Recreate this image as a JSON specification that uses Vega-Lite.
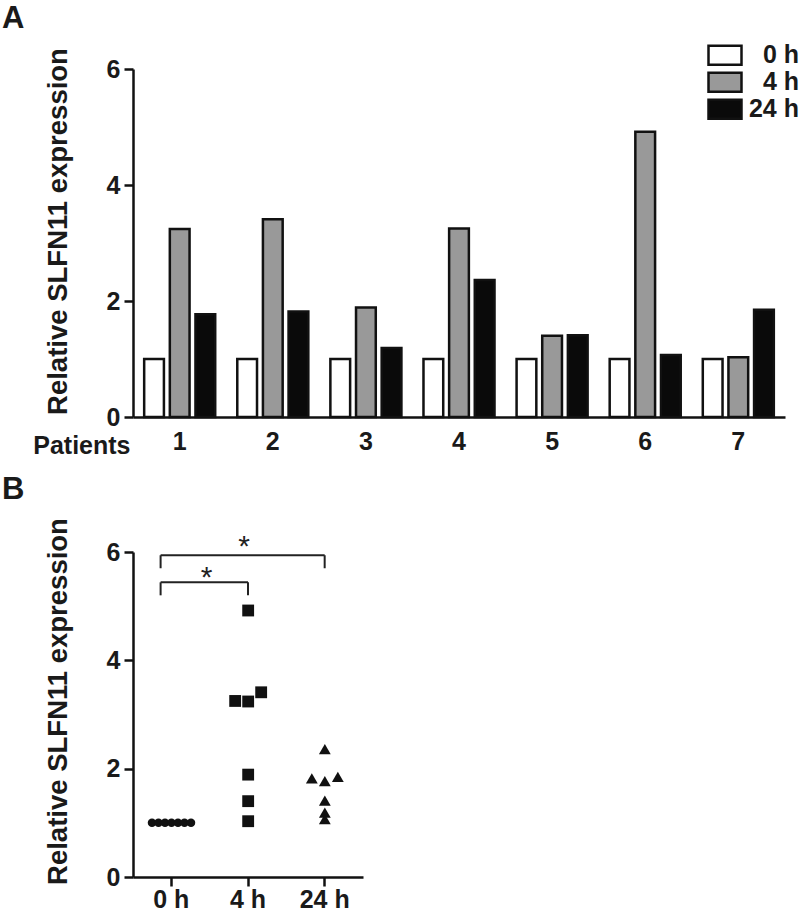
{
  "$schema": "https://vega.github.io/schema/vega-lite/v6.json",
  "background": "white",
  "padding": {"left": 2, "top": 2, "right": 0, "bottom": 0},
  "spacing": 15,
  "datasets": {
    "expr": [
      {"patient": "1", "time": "0 h", "value": 1.0},
      {"patient": "1", "time": "4 h", "value": 3.24},
      {"patient": "1", "time": "24 h", "value": 1.77},
      {"patient": "2", "time": "0 h", "value": 1.0},
      {"patient": "2", "time": "4 h", "value": 3.41},
      {"patient": "2", "time": "24 h", "value": 1.82},
      {"patient": "3", "time": "0 h", "value": 1.0},
      {"patient": "3", "time": "4 h", "value": 1.89},
      {"patient": "3", "time": "24 h", "value": 1.19},
      {"patient": "4", "time": "0 h", "value": 1.0},
      {"patient": "4", "time": "4 h", "value": 3.25},
      {"patient": "4", "time": "24 h", "value": 2.36},
      {"patient": "5", "time": "0 h", "value": 1.0},
      {"patient": "5", "time": "4 h", "value": 1.4},
      {"patient": "5", "time": "24 h", "value": 1.41},
      {"patient": "6", "time": "0 h", "value": 1.0},
      {"patient": "6", "time": "4 h", "value": 4.92},
      {"patient": "6", "time": "24 h", "value": 1.07},
      {"patient": "7", "time": "0 h", "value": 1.0},
      {"patient": "7", "time": "4 h", "value": 1.03},
      {"patient": "7", "time": "24 h", "value": 1.85}
    ],
    "brackets": [
      {"from": "0 h", "to": "4 h", "top": 5.44, "low": 5.2, "star": "*", "starY": 5.36},
      {"from": "0 h", "to": "24 h", "top": 5.94, "low": 5.7, "star": "*", "starY": 5.92}
    ]
  },
  "config": {
    "view": {"stroke": null},
    "font": "Liberation Sans",
    "axis": {
      "grid": false,
      "domainColor": "#111111",
      "domainWidth": 2.5,
      "tickColor": "#111111",
      "tickWidth": 2.5,
      "labelFont": "Liberation Sans",
      "labelFontWeight": "bold",
      "labelFontSize": 25,
      "labelColor": "#1a1a1a",
      "titleFont": "Liberation Sans",
      "titleFontWeight": "bold",
      "titleFontSize": 27.5,
      "titleColor": "#1a1a1a"
    },
    "legend": {"padding": 0},
    "title": {"font": "Liberation Sans", "fontWeight": "bold", "fontSize": 31, "color": "#1a1a1a"}
  },
  "vconcat": [
    {
      "title": {"text": "A", "anchor": "start", "frame": "group", "dx": -131, "offset": 13},
      "width": 652,
      "height": 348,
      "data": {"name": "expr"},
      "mark": {"type": "bar", "stroke": "#111111", "strokeWidth": 2.5},
      "encoding": {
        "x": {
          "field": "patient", "type": "ordinal",
          "scale": {"paddingInner": 0.237, "paddingOuter": 0.12},
          "axis": {"ticks": false, "labelAngle": 0, "labelPadding": 12, "title": "Patients", "titleX": -3, "titleY": 36, "titleAlign": "right", "titleBaseline": "alphabetic", "titleFontSize": 25}
        },
        "xOffset": {"field": "time", "type": "nominal", "sort": ["0 h", "4 h", "24 h"], "scale": {"paddingInner": 0.23}},
        "y": {
          "field": "value", "type": "quantitative",
          "scale": {"domain": [0, 6], "nice": false},
          "axis": {"values": [0, 2, 4, 6], "format": "d", "tickSize": 9, "labelPadding": 4, "title": "Relative SLFN11 expression", "titlePadding": 34, "titleY": 162}
        },
        "fill": {
          "field": "time", "type": "nominal",
          "scale": {"domain": ["0 h", "4 h", "24 h"], "range": ["#ffffff", "#999999", "#0a0a0a"]},
          "legend": {
            "title": null, "orient": "none", "legendX": 574, "legendY": -27,
            "symbolType": "M-1,-0.58H1V0.58H-1Z", "symbolSize": 1089,
            "symbolStrokeColor": "#111111", "symbolStrokeWidth": 2.5, "symbolOpacity": 1,
            "clipHeight": 26.5, "rowPadding": 0,
            "labelFontSize": 25, "labelFontWeight": "bold", "labelColor": "#1a1a1a",
            "labelAlign": "right", "labelOffset": 56, "labelLimit": 100
          }
        }
      }
    },
    {
      "title": {"text": "B", "anchor": "start", "frame": "group", "dx": -131, "offset": 12},
      "width": 230,
      "height": 325,
      "resolve": {"scale": {"xOffset": "independent"}},
      "layer": [
        {
          "data": {"name": "expr"},
          "transform": [{"filter": "datum.time === '0 h'"}],
          "mark": {"type": "point", "shape": "circle", "filled": true, "color": "#111111", "opacity": 1, "size": 72},
          "encoding": {
            "x": {
              "field": "time", "type": "nominal",
              "scale": {"domain": ["0 h", "4 h", "24 h"], "paddingInner": 0, "paddingOuter": 0},
              "axis": {"tickSize": 9, "labelAngle": 0, "labelPadding": 1, "title": null}
            },
            "xOffset": {"field": "patient", "type": "nominal", "scale": {"type": "point", "padding": 0, "range": [19, 58]}},
            "y": {
              "field": "value", "type": "quantitative",
              "scale": {"domain": [0, 6], "nice": false},
              "axis": {"values": [0, 2, 4, 6], "format": "d", "tickSize": 9, "labelPadding": 4, "title": "Relative SLFN11 expression", "titlePadding": 34, "titleY": 149}
            }
          }
        },
        {
          "data": {"name": "expr"},
          "transform": [
            {"filter": "datum.time !== '0 h'"},
            {"bin": {"step": 0.3, "anchor": 0.2}, "field": "value", "as": "vbin"},
            {"window": [{"op": "rank", "as": "lane"}], "groupby": ["time", "vbin"], "sort": [{"field": "value", "order": "ascending"}]}
          ],
          "mark": {"type": "point", "filled": true, "color": "#111111", "opacity": 1, "size": 140},
          "encoding": {
            "x": {"field": "time", "type": "nominal"},
            "xOffset": {"field": "lane", "type": "ordinal", "scale": {"type": "point", "domain": [2, 1, 3], "padding": 0, "range": [25.5, 51.5]}},
            "y": {"field": "value", "type": "quantitative"},
            "shape": {"field": "time", "type": "nominal", "scale": {"domain": ["4 h", "24 h"], "range": ["square", "triangle-up"]}, "legend": null}
          }
        },
        {
          "data": {"name": "brackets"},
          "mark": {"type": "rule", "color": "#222222", "strokeWidth": 2},
          "encoding": {
            "x": {"field": "from", "type": "nominal", "bandPosition": 0.36},
            "x2": {"field": "to", "bandPosition": 0.5},
            "y": {"field": "top", "type": "quantitative"}
          }
        },
        {
          "data": {"name": "brackets"},
          "mark": {"type": "rule", "color": "#222222", "strokeWidth": 2},
          "encoding": {
            "x": {"field": "from", "type": "nominal", "bandPosition": 0.36},
            "y": {"field": "top", "type": "quantitative"},
            "y2": {"field": "low"}
          }
        },
        {
          "data": {"name": "brackets"},
          "mark": {"type": "rule", "color": "#222222", "strokeWidth": 2},
          "encoding": {
            "x": {"field": "to", "type": "nominal", "bandPosition": 0.5},
            "y": {"field": "top", "type": "quantitative"},
            "y2": {"field": "low"}
          }
        },
        {
          "data": {"name": "brackets"},
          "transform": [{"filter": "datum.to === '4 h'"}],
          "mark": {"type": "text", "fontSize": 30, "color": "#222222", "baseline": "alphabetic", "align": "center"},
          "encoding": {
            "x": {"field": "from", "type": "nominal", "bandPosition": 0.96},
            "y": {"field": "starY", "type": "quantitative"},
            "text": {"field": "star"}
          }
        },
        {
          "data": {"name": "brackets"},
          "transform": [{"filter": "datum.to === '24 h'"}],
          "mark": {"type": "text", "fontSize": 30, "color": "#222222", "baseline": "alphabetic", "align": "center"},
          "encoding": {
            "x": {"field": "from", "type": "nominal", "bandPosition": 1.45},
            "y": {"field": "starY", "type": "quantitative"},
            "text": {"field": "star"}
          }
        }
      ]
    }
  ]
}
